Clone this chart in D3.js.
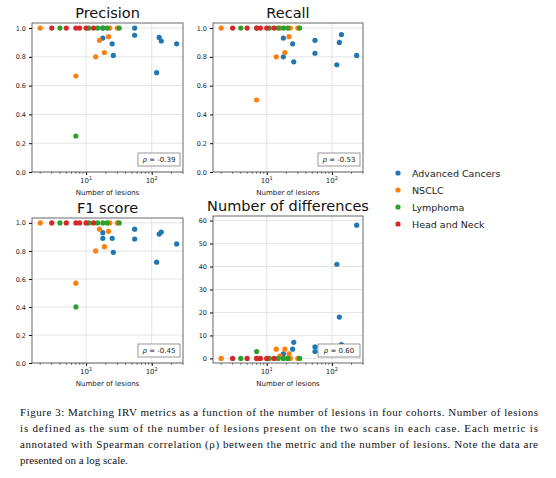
<!DOCTYPE html><html><head><meta charset="utf-8"><script src="https://cdn.jsdelivr.net/npm/d3@7"></script>
<style>body{margin:0;background:#fff}</style></head><body><svg id="c" width="556" height="478"></svg>
<script>
const cohorts=["Advanced Cancers","NSCLC","Lymphoma","Head and Neck"];
const colors=["#1f77b4","#ff7f0e","#2ca02c","#d62728"];
const lesions=[[18,18,25,26,55,55,119,130,140,240],[2,7,14,16,19,22,23,30],[4,7,11,15,18,21,32],[3,5,7,8,10,13]];
const precision=[[0.93,1,0.89,0.81,1,0.95,0.69,0.935,0.91,0.89],[1,0.667,0.8,0.915,0.83,0.94,1,1],[1,0.25,1,1,1,1,1],[1,1,1,1,1,1]];
const recall=[[0.93,0.8,0.89,0.765,0.915,0.825,0.745,0.9,0.955,0.81],[1,0.5,0.8,1,0.83,0.94,1,1],[1,1,1,1,1,1,1],[1,1,1,1,1,1]];
const f1=[[0.93,0.89,0.89,0.79,0.955,0.885,0.72,0.92,0.935,0.85],[1,0.57,0.8,0.955,0.83,0.94,1,1],[1,0.4,1,1,1,1,1],[1,1,1,1,1,1]];
const diffs=[[2,0,4,7,5,3,41,18,6,58],[0,0,4,1,4,2,0,0],[0,3,0,0,0,0,0],[0,0,0,0,0,0]];
const titles=["Precision","Recall","F1 score","Number of differences"];
const rhos=["-0.39","-0.53","-0.45","0.60"];
const metrics=[precision,recall,f1,diffs];
const svg=d3.select("#c");
const panels=[{x0:32,x1:183,y0:23,y1:172},{x0:213,x1:363,y0:23,y1:172},{x0:32,x1:183,y0:218,y1:363},{x0:213,x1:363,y0:216,y1:363}];
panels.forEach((p,i)=>{
  const g=svg.append("g");
  const x=d3.scaleLog().domain([1.5,300]).range([p.x0,p.x1]);
  const y=i<3?d3.scaleLinear().domain([0,1.035]).range([p.y1,p.y0]):d3.scaleLinear().domain([-2,62]).range([p.y1,p.y0]);
  const yt=i<3?[0,0.2,0.4,0.6,0.8,1.0]:[0,10,20,30,40,50,60];
  g.selectAll(".gy").data(yt).join("line").attr("x1",p.x0).attr("x2",p.x1).attr("y1",d=>y(d)).attr("y2",d=>y(d)).attr("stroke","#ddd").attr("stroke-width",0.8);
  g.selectAll(".gx").data([10,100]).join("line").attr("x1",d=>x(d)).attr("x2",d=>x(d)).attr("y1",p.y0).attr("y2",p.y1).attr("stroke","#ddd").attr("stroke-width",0.8);
  const ax=g.append("g").attr("transform",`translate(0,${p.y1})`).call(d3.axisBottom(x).tickValues([10,100]).tickFormat("").tickSize(3));
  ax.selectAll(".domain").remove();
  const minors=[2,3,4,5,6,7,8,9,20,30,40,50,60,70,80,90,200,300];
  g.selectAll(".mt").data(minors).join("line").attr("x1",d=>x(d)).attr("x2",d=>x(d)).attr("y1",p.y1).attr("y2",p.y1+1.8).attr("stroke","#000").attr("stroke-width",0.6);
  [10,100].forEach((v,k)=>{const t=g.append("text").attr("x",x(v)).attr("y",p.y1+11).attr("text-anchor","middle").attr("font-family","DejaVu Sans").attr("font-size",7).attr("fill","#222");
    t.append("tspan").text("10");t.append("tspan").attr("dy",-3).attr("font-size",5).text(k+1);});
  const ay=g.append("g").attr("transform",`translate(${p.x0},0)`).call(d3.axisLeft(y).tickValues(yt).tickFormat(i<3?d3.format(".1f"):d3.format("d")).tickSize(3));
  ay.selectAll(".domain").remove();
  ay.selectAll("text").attr("font-family","DejaVu Sans").attr("font-size",6.5).attr("fill","#222");
  g.append("rect").attr("x",p.x0).attr("y",p.y0).attr("width",p.x1-p.x0).attr("height",p.y1-p.y0).attr("fill","none").attr("stroke","#444").attr("stroke-width",0.8);
  g.append("text").attr("x",(p.x0+p.x1)/2).attr("y",p.y1+23).attr("text-anchor","middle").attr("font-family","DejaVu Sans").attr("font-size",7).attr("fill","#222").text("Number of lesions");
  g.append("text").attr("x",(p.x0+p.x1)/2).attr("y",p.y0-5).attr("text-anchor","middle").attr("font-family","DejaVu Sans").attr("font-size",14.5).attr("fill","#111").text(titles[i]);
  cohorts.forEach((c,ci)=>{
    g.selectAll(null).data(lesions[ci].map((l,j)=>[l,metrics[i][ci][j]])).join("circle").attr("cx",d=>x(d[0])).attr("cy",d=>y(d[1])).attr("r",2.6).attr("fill",colors[ci]);
  });
  g.append("rect").attr("x",p.x1-45).attr("y",p.y1-19).attr("width",42).attr("height",13).attr("fill","#fff").attr("stroke","#555").attr("stroke-width",0.6);
  const rt=g.append("text").attr("x",p.x1-24).attr("y",p.y1-10).attr("text-anchor","middle").attr("font-family","DejaVu Sans").attr("font-size",7).attr("fill","#222");
  rt.append("tspan").attr("font-style","italic").text("ρ");rt.append("tspan").text(" = "+rhos[i]);
});
const lg=svg.append("g");
cohorts.forEach((c,i)=>{
  lg.append("circle").attr("cx",398).attr("cy",173+i*17).attr("r",2.6).attr("fill",colors[i]);
  lg.append("text").attr("x",412).attr("y",176.5+i*17).attr("font-family","DejaVu Sans").attr("font-size",9.5).attr("fill","#222").text(c);
});
const caption=["Figure 3: Matching IRV metrics as a function of the number of lesions in four cohorts. Number of lesions","is defined as the sum of the number of lesions present on the two scans in each case. Each metric is","annotated with Spearman correlation (ρ) between the metric and the number of lesions. Note the data are","presented on a log scale."];
caption.forEach((t,i)=>{
  const el=svg.append("text").attr("x",20).attr("y",416+i*16).attr("font-family","Liberation Serif").attr("font-size",11).attr("fill","#111").text(t);
  if(i<3) el.attr("textLength",518).attr("lengthAdjust","spacing");
});
</script></body></html>
